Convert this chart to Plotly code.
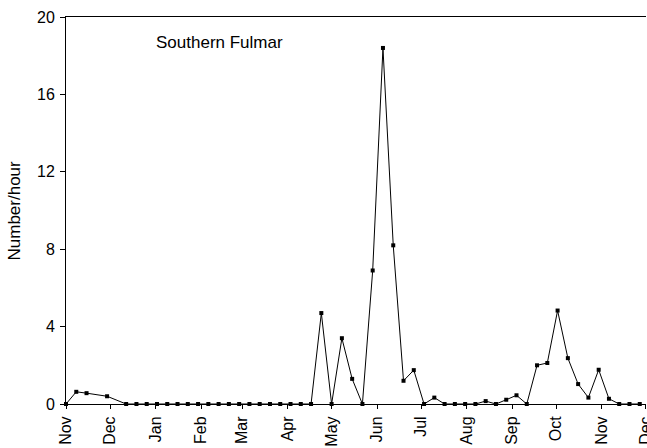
import datetime as dt
import plotly.graph_objects as go

# Survey dates (days after 1 Nov 2001) and sighting rates
start = dt.date(2001, 11, 1)
early_days = [0, 7, 14, 28]
early_rates = [0, 0.63, 0.56, 0.40]

weekly_first_day = 41
weekly_rates = [
    0, 0, 0, 0, 0, 0, 0, 0, 0, 0,
    0, 0, 0, 0, 0, 0, 0, 0, 0, 4.7,
    0, 3.4, 1.3, 0, 6.9, 18.4, 8.2, 1.2, 1.75, 0,
    0.33, 0, 0, 0, 0, 0.15, 0, 0.22, 0.45, 0,
    2.0, 2.12, 4.83, 2.37, 1.03, 0.33, 1.77, 0.27, 0, 0,
    0,
]
weekly_days = [weekly_first_day + 7 * i for i in range(len(weekly_rates))]

days = early_days + weekly_days
rates = early_rates + weekly_rates
dates = [start + dt.timedelta(days=d) for d in days]

y_ticks = [0, 4, 8, 12, 16, 20]
species = "Southern Fulmar"
y_title = "Number/hour"

FONT = "Liberation Sans, Arial, sans-serif"
TICK_SIZE = 16
TEXT_SIZE = 17

fig = go.Figure()
fig.add_trace(go.Scatter(
    x=dates,
    y=rates,
    mode="lines+markers",
    line=dict(color="black", width=1),
    marker=dict(symbol="square", size=4, color="black"),
    cliponaxis=False,
    showlegend=False,
))

fig.update_layout(
    width=647,
    height=448,
    margin=dict(l=66, r=1, t=17, b=44),
    paper_bgcolor="white",
    plot_bgcolor="white",
    font=dict(family=FONT, size=TICK_SIZE, color="black"),
    xaxis=dict(
        type="date",
        range=[dt.datetime(2001, 11, 1), dt.datetime(2002, 12, 1, 6)],
        tick0="2001-11-01",
        dtick="M1",
        tickformat="%b",
        tickangle=-90,
        ticks="outside",
        ticklen=4,
        tickwidth=1,
        tickcolor="black",
        ticklabelstandoff=1,
        ticklabeloverflow="allow",
        automargin=False,
        showline=True,
        linecolor="black",
        linewidth=1,
        mirror=True,
        showgrid=False,
        zeroline=False,
        tickfont=dict(family=FONT, size=TICK_SIZE, color="black"),
    ),
    yaxis=dict(
        range=[0, 20],
        tickvals=y_ticks,
        ticks="outside",
        ticklen=5,
        tickwidth=1,
        tickcolor="black",
        ticklabelstandoff=2,
        automargin=False,
        showline=True,
        linecolor="black",
        linewidth=1,
        showgrid=False,
        zeroline=False,
        tickfont=dict(family=FONT, size=TICK_SIZE, color="black"),
    ),
    annotations=[
        dict(
            text=species,
            xref="paper", yref="paper",
            x=0.2655, y=0.933,
            xanchor="center", yanchor="middle",
            showarrow=False,
            font=dict(family=FONT, size=TEXT_SIZE, color="black"),
        ),
        dict(
            text=y_title,
            xref="paper", yref="paper",
            x=(14 - 66) / 580, y=0.5,
            xanchor="center", yanchor="middle",
            textangle=-90,
            showarrow=False,
            font=dict(family=FONT, size=TEXT_SIZE, color="black"),
        ),
    ],
)

fig.write_html("out.html")
